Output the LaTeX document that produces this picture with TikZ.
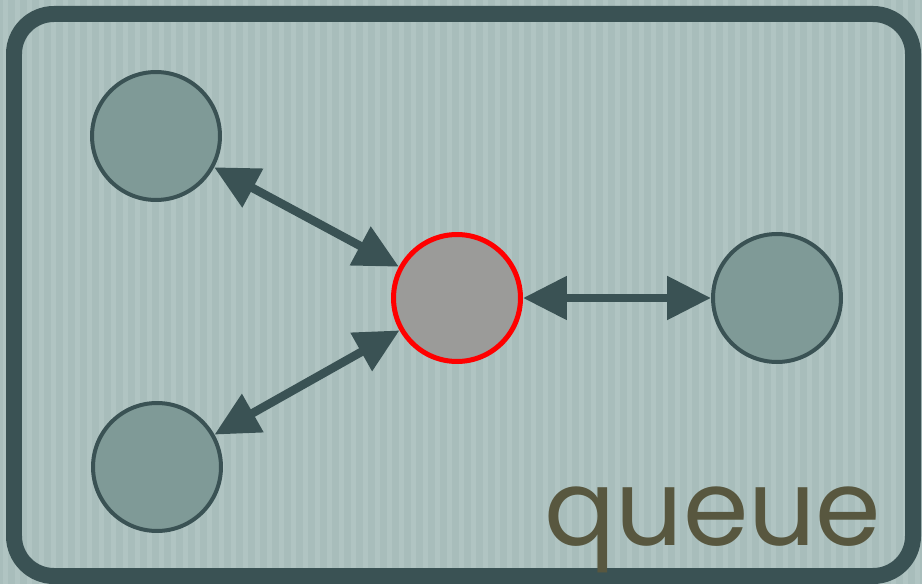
\documentclass[tikz,border=0pt]{standalone}
\usepackage{fontspec}
\newfontfamily\labelfont{Poppins}
\usetikzlibrary{arrows.meta}
\definecolor{slate}{HTML}{3A5254}
\definecolor{paper}{HTML}{A8BDBB}
\definecolor{paperlight}{HTML}{B0C4C2}
\definecolor{peerfill}{HTML}{7F9A97}
\definecolor{hubfill}{HTML}{9B9B99}
\definecolor{olive}{HTML}{58573F}
\begin{document}
\begin{tikzpicture}[x=0.02cm,y=-0.02cm,>={Triangle[length=0.88cm,width=0.84cm]}]
\tikzset{
  peer/.style={draw=slate,fill=peerfill,shape=circle,line width=0.08cm,minimum size=2.56cm,inner sep=0pt},
  hub/.style={draw=red,fill=hubfill,shape=circle,line width=0.1cm,minimum size=2.54cm,inner sep=0pt},
  link/.style={<->,draw=slate,line width=0.17cm}
}
\useasboundingbox (0,0) rectangle (922,584);
\fill[paper] (0,0) rectangle (922,584);
\foreach \s in {3,15,...,920}
  \fill[paperlight] (\s,0) rectangle ++(5,584);
\draw[slate,line width=0.32cm,rounded corners=0.8cm] (14,14) rectangle (913,576);
\node[peer] (clientA) at (156,136) {};
\node[peer] (clientB) at (157,467) {};
\node[hub] (broker) at (457,298) {};
\node[peer] (worker) at (777,298) {};
\draw[link] (clientA) -- (broker);
\draw[link] (clientB) -- (broker);
\draw[link] (broker) -- (worker);
\node[anchor=base west,inner sep=0pt,text=olive,font=\labelfont\fontsize{60}{60}\selectfont] (title) at (544,545) {queue};
\end{tikzpicture}
\end{document}
